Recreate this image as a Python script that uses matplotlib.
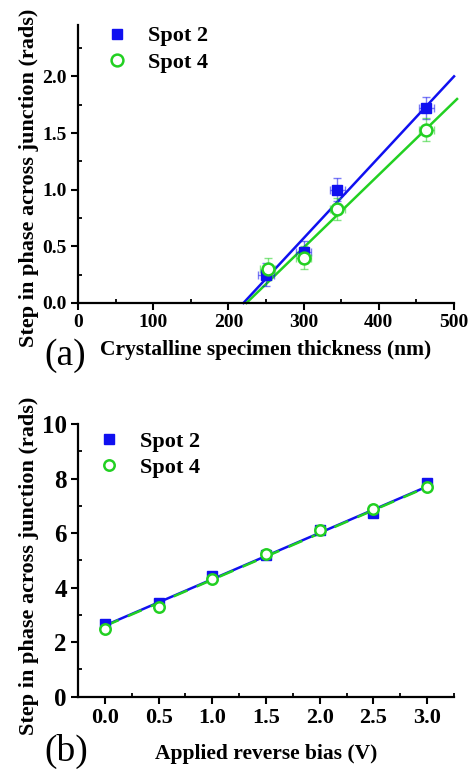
import matplotlib
matplotlib.use("Agg")
import matplotlib.pyplot as plt
from matplotlib.ticker import MultipleLocator
import numpy as np

plt.rcParams["font.family"] = ["Liberation Serif", "DejaVu Serif"]
plt.rcParams["font.weight"] = "bold"
plt.rcParams["axes.labelweight"] = "bold"

BLUE = "#1010f0"
GREEN = "#22d022"

# (a) phase step vs crystalline specimen thickness
thick_s2 = [250, 300, 345, 463]
phase_s2 = [0.25, 0.45, 1.00, 1.72]
thick_s4 = [252, 300, 345, 463]
phase_s4 = [0.30, 0.40, 0.83, 1.53]
thick_err = [10, 10, 10, 10]
phase_err_a = [0.10, 0.10, 0.10, 0.10]
# linear fits: slope, intercept, end of line
fit_a_s2 = (0.007143, -1.5714, 500)
fit_a_s4 = (0.006429, -1.4400, 504)

# (b) phase step vs applied reverse bias
bias = [0.0, 0.5, 1.0, 1.5, 2.0, 2.5, 3.0]
phase_b_s2 = [2.65, 3.45, 4.42, 5.20, 6.10, 6.75, 7.82]
phase_b_s4 = [2.50, 3.30, 4.30, 5.25, 6.10, 6.90, 7.70]
phase_err_b = [0.12, 0.12, 0.12, 0.12, 0.12, 0.12, 0.12]
fit_b_s2 = (1.70, 2.61)
fit_b_s4 = (1.70, 2.59)

fig = plt.figure(figsize=(4.71, 7.69), dpi=100)
ax1 = fig.add_axes([0.1656, 0.606, 0.7984, 0.361])
ax2 = fig.add_axes([0.1656, 0.094, 0.7984, 0.3546])


def style_axes(ax, tick_size):
    for side in ("top", "right"):
        ax.spines[side].set_visible(False)
    for side in ("left", "bottom"):
        ax.spines[side].set_linewidth(1.6)
    ax.tick_params(which="major", direction="out", length=5, width=1.5,
                   labelsize=tick_size, pad=3)
    ax.tick_params(which="minor", direction="in", length=3, width=1.3)


# ---- panel (a)
m, b, xe = fit_a_s2
x = np.array([-b / m, xe])
ax1.plot(x, m * x + b, color=BLUE, lw=1.8, clip_on=False, zorder=2)
m, b, xe = fit_a_s4
x = np.array([-b / m, xe])
ax1.plot(x, m * x + b, color=GREEN, lw=1.8, clip_on=False, zorder=2)

ax1.errorbar(thick_s2, phase_s2, xerr=thick_err, yerr=phase_err_a, fmt="none",
             ecolor=BLUE, alpha=0.55, elinewidth=1, capsize=3, zorder=3)
ax1.errorbar(thick_s4, phase_s4, xerr=thick_err, yerr=phase_err_a, fmt="none",
             ecolor=GREEN, alpha=0.55, elinewidth=1, capsize=3, zorder=3)
ax1.plot(thick_s2, phase_s2, "s", color=BLUE, ms=7.5, ls="none", label="Spot 2", zorder=4)
ax1.plot(thick_s4, phase_s4, "o", mfc="white", mec=GREEN, mew=1.8, ms=8.5,
         ls="none", label="Spot 4", zorder=5)

ax1.set_xlim(0, 500)
ax1.set_ylim(0, 2.45)
ax1.xaxis.set_major_locator(MultipleLocator(100))
ax1.xaxis.set_minor_locator(MultipleLocator(50))
ax1.yaxis.set_major_locator(MultipleLocator(0.5))
ax1.yaxis.set_minor_locator(MultipleLocator(0.25))
ax1.yaxis.set_major_formatter(plt.FormatStrFormatter("%.1f"))
style_axes(ax1, 14)
ax1.set_ylabel("Step in phase across junction (rads)", fontsize=16)
ax1.set_xlabel("Crystalline specimen thickness (nm)", fontsize=15.5)
ax1.yaxis.set_label_coords(-0.105, 0.45)
ax1.xaxis.set_label_coords(0.5, -0.135)
ax1.legend(loc="upper left", bbox_to_anchor=(0.05, 1.03), frameon=False,
           fontsize=16, handlelength=1.0, handletextpad=0.9, labelspacing=0.25,
           borderaxespad=0)
fig.text(0.095, 0.525, "(a)", fontsize=27, fontweight="normal")

# ---- panel (b)
x = np.array([bias[0], bias[-1]])
m, b = fit_b_s2
ax2.plot(x, m * x + b, color=BLUE, lw=1.8, zorder=2)
m, b = fit_b_s4
ax2.plot(x, m * x + b, color=GREEN, lw=1.8, ls=(0, (6, 4)), zorder=2)

ax2.errorbar(bias, phase_b_s2, yerr=phase_err_b, fmt="none",
             ecolor=BLUE, alpha=0.55, elinewidth=1, capsize=3, zorder=3)
ax2.errorbar(bias, phase_b_s4, yerr=phase_err_b, fmt="none",
             ecolor=GREEN, alpha=0.55, elinewidth=1, capsize=3, zorder=3)
ax2.plot(bias, phase_b_s2, "s", color=BLUE, ms=7, ls="none", label="Spot 2", zorder=4)
ax2.plot(bias, phase_b_s4, "o", mfc="white", mec=GREEN, mew=1.8, ms=7.5,
         ls="none", label="Spot 4", zorder=5)

ax2.set_xlim(-0.25, 3.25)
ax2.set_ylim(0, 10)
ax2.xaxis.set_major_locator(MultipleLocator(0.5))
ax2.xaxis.set_minor_locator(MultipleLocator(0.25))
ax2.yaxis.set_major_locator(MultipleLocator(2))
ax2.yaxis.set_minor_locator(MultipleLocator(1))
ax2.xaxis.set_major_formatter(plt.FormatStrFormatter("%.1f"))
style_axes(ax2, 16)
ax2.tick_params(axis="y", which="major", labelsize=18)
ax2.set_ylabel("Step in phase across junction (rads)", fontsize=16)
ax2.set_xlabel("Applied reverse bias (V)", fontsize=15.5)
ax2.yaxis.set_label_coords(-0.105, 0.48)
ax2.xaxis.set_label_coords(0.5, -0.175)
ax2.legend(loc="upper left", bbox_to_anchor=(0.03, 1.005), frameon=False,
           fontsize=16, handlelength=1.0, handletextpad=0.9, labelspacing=0.25,
           borderaxespad=0)
fig.text(0.095, 0.010, "(b)", fontsize=27, fontweight="normal")

fig.savefig("out.png", dpi=100)
